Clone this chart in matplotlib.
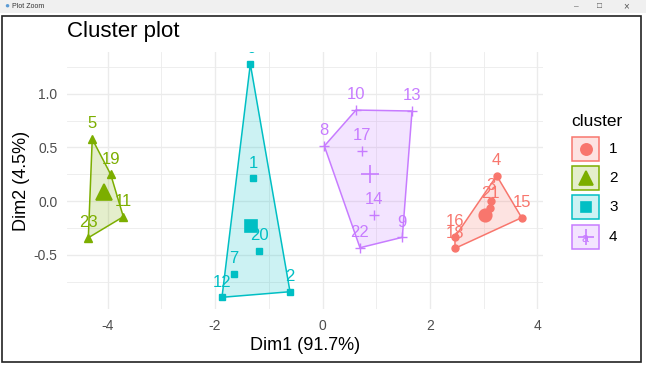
import numpy as np
import matplotlib
matplotlib.use("Agg")
import matplotlib.pyplot as plt
from matplotlib.patches import Rectangle, Polygon

plt.rcParams['font.family'] = ['Liberation Sans', 'DejaVu Sans']
plt.rcParams['axes.unicode_minus'] = False

labels = [str(i) for i in range(1, 24)]
dim1 = [-1.288, -0.605, 3.132, 3.244, -4.288, -1.344, -1.654, 0.034, 1.486, 0.624,
        -3.709, -1.872, 1.667, 0.961, 3.709, 2.467, 0.743, 2.467, -3.945, -1.177,
        3.119, 0.698, -4.361]
dim2 = [0.212, -0.845, 0.000, 0.236, 0.578, 1.277, -0.680, 0.513, -0.338, 0.848,
        -0.146, -0.897, 0.839, -0.130, -0.155, -0.333, 0.469, -0.441, 0.249, -0.466,
        -0.068, -0.435, -0.342]
cluster = [3, 3, 1, 1, 2, 3, 3, 4, 4, 4, 2, 3, 4, 4, 1, 1, 4, 1, 2, 3, 1, 4, 2]

cluster_ids = [1, 2, 3, 4]
colors = {1: '#F8766D', 2: '#7CAE00', 3: '#00BFC4', 4: '#C77CFF'}
markers = {1: 'o', 2: '^', 3: 's', 4: '+'}
small_ms = {1: 5, 2: 5.5, 3: 4.5, 4: 7}
big_ms = {1: 9, 2: 11, 3: 8.5, 4: 13}


def hull(pts):
    pts = sorted(map(tuple, pts))
    def cross(o, a, b):
        return (a[0] - o[0]) * (b[1] - o[1]) - (a[1] - o[1]) * (b[0] - o[0])
    lower, upper = [], []
    for p in pts:
        while len(lower) >= 2 and cross(lower[-2], lower[-1], p) <= 0:
            lower.pop()
        lower.append(p)
    for p in reversed(pts):
        while len(upper) >= 2 and cross(upper[-2], upper[-1], p) <= 0:
            upper.pop()
        upper.append(p)
    return np.array(lower[:-1] + upper[:-1])


W, H = 646, 365
fig = plt.figure(figsize=(W / 100, H / 100), dpi=100)

# window chrome of the screenshot
fig.patches.append(Rectangle((0, 1 - 13 / H), 1, 13 / H, transform=fig.transFigure,
                             facecolor='#f0f0f0', edgecolor='none', zorder=0))
fig.patches.append(Rectangle((1.5 / W, 3 / H), 639.5 / W, (362 - 16) / H,
                             transform=fig.transFigure, facecolor='none',
                             edgecolor='#222222', linewidth=1.2, zorder=1))
fig.text(4 / W, 1 - 6.5 / H, '\u25CF', color='#5b9bd5', fontsize=6, va='center')
fig.text(12 / W, 1 - 6.5 / H, 'Plot Zoom', fontsize=5, va='center', color='#333333')
fig.text(1 - 72 / W, 1 - 6.5 / H, '\u2013', fontsize=6, va='center', color='#555555')
fig.text(1 - 49 / W, 1 - 6.5 / H, '\u25A1', fontsize=6, va='center', color='#555555')
fig.text(1 - 23 / W, 1 - 6.5 / H, '\u00D7', fontsize=7, va='center', color='#555555')

# plot panel
left, right, top, bottom = 67, 543, 52, 309
ax = fig.add_axes([left / W, 1 - bottom / H, (right - left) / W, (bottom - top) / H])
ax.set_xlim(-4.758, 4.106)
ax.set_ylim(-1.006, 1.389)
ax.set_xticks([-4, -2, 0, 2, 4])
ax.set_xticks([-3, -1, 1, 3], minor=True)
ax.set_yticks([-0.5, 0.0, 0.5, 1.0])
ax.set_yticks([-0.75, -0.25, 0.25, 0.75, 1.25], minor=True)
ax.set_yticklabels(['-0.5', '0.0', '0.5', '1.0'])
ax.grid(which='major', color='#EBEBEB', linewidth=1.0)
ax.grid(which='minor', color='#EBEBEB', linewidth=0.6)
ax.set_axisbelow(True)
for s in ax.spines.values():
    s.set_visible(False)
ax.tick_params(which='both', length=0, labelsize=10, labelcolor='#4D4D4D', pad=7)

x = np.array(dim1)
y = np.array(dim2)
cl = np.array(cluster)

for c in cluster_ids:
    m = cl == c
    pts = np.column_stack([x[m], y[m]])
    h = hull(pts)
    ax.add_patch(Polygon(h, closed=True, facecolor=colors[c], alpha=0.2,
                         edgecolor='none', zorder=1))
    ax.add_patch(Polygon(h, closed=True, facecolor='none', edgecolor=colors[c],
                         linewidth=1.1, zorder=2))
    ax.plot(x[m], y[m], linestyle='none', marker=markers[c], color=colors[c],
            ms=small_ms[c], mew=1.0, zorder=3)
    ax.plot(x[m].mean(), y[m].mean(), marker=markers[c], color=colors[c],
            ms=big_ms[c], mew=1.2, zorder=3)
    for i in np.where(m)[0]:
        t = ax.annotate(labels[i], (x[i], y[i]), xytext=(0, 11), textcoords='offset points',
                        ha='center', va='center', fontsize=12, color=colors[c], zorder=4)
        t.set_clip_on(True)
        t.set_clip_box(ax.bbox)

fig.text(left / W, 1 - 32 / H, 'Cluster plot', fontsize=16, va='center', ha='left')
fig.text((left + right) / 2 / W, 1 - 345 / H, 'Dim1 (91.7%)', fontsize=13,
         ha='center', va='center')
fig.text(22 / W, 1 - (top + bottom) / 2 / H, 'Dim2 (4.5%)', fontsize=13,
         rotation=90, ha='center', va='center')

# legend drawn as keys like ggplot
fig.text(571 / W, 1 - 121 / H, 'cluster', fontsize=12.5, ha='left', va='center')
key_y = [149, 178, 207, 237]
for c, ky in zip(cluster_ids, key_y):
    kx0, kw, kh = 572, 27, 24
    fig.patches.append(Rectangle((kx0 / W, 1 - (ky + kh / 2) / H), kw / W, kh / H,
                                 transform=fig.transFigure, facecolor=colors[c],
                                 alpha=0.2, edgecolor='none'))
    fig.patches.append(Rectangle((kx0 / W, 1 - (ky + kh / 2) / H), kw / W, kh / H,
                                 transform=fig.transFigure, facecolor='none',
                                 edgecolor=colors[c], linewidth=1.1))
    cx, cy = (kx0 + kw / 2) / W, 1 - ky / H
    fig.text(cx, cy - 2 / H, 'a', fontsize=9, color=colors[c], ha='center', va='center')
    fig.add_artist(plt.Line2D([cx], [cy], marker=markers[c], color=colors[c],
                              ms=big_ms[c] * 0.9, mew=1.2, transform=fig.transFigure))
    fig.text(609 / W, cy, str(c), fontsize=11, ha='left', va='center')

fig.savefig('out.png', dpi=100)
